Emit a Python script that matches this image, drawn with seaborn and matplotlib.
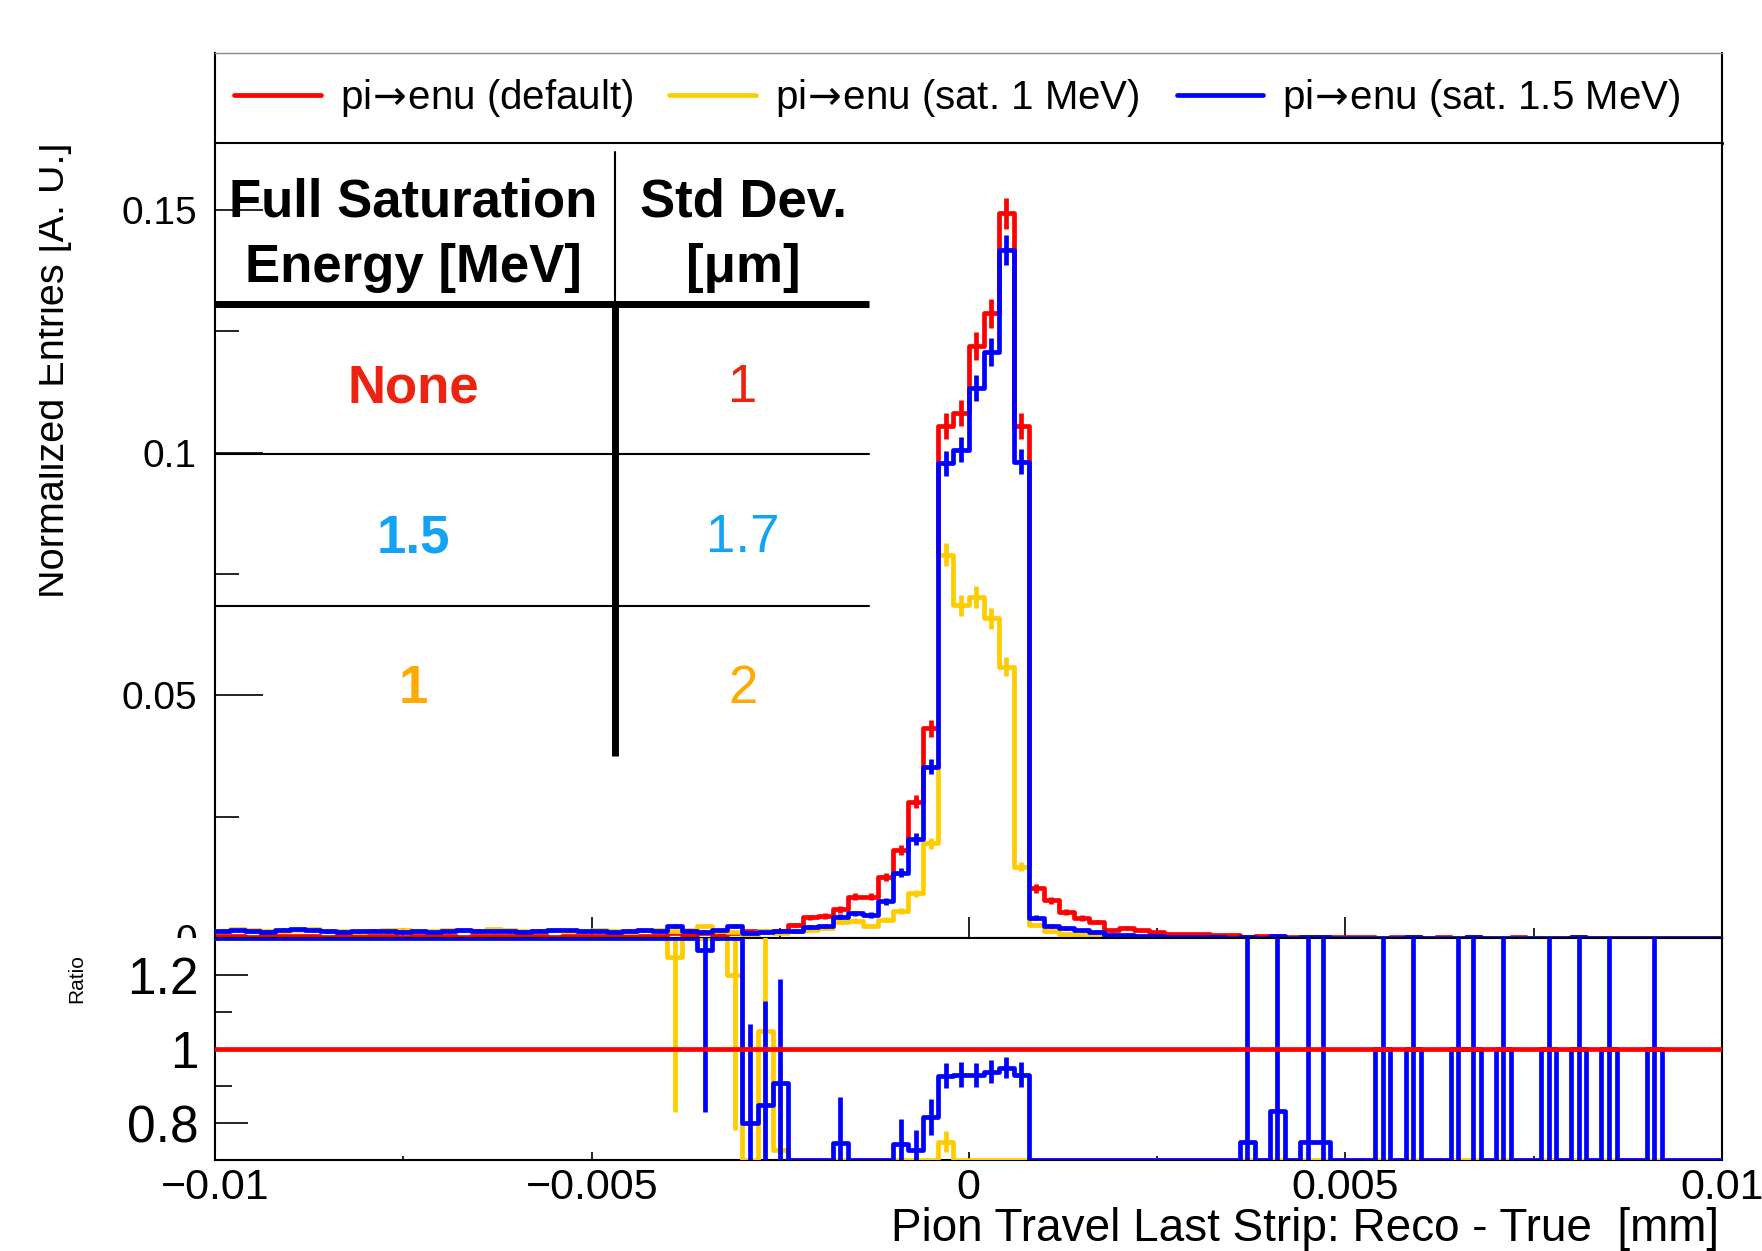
import numpy as np
import pandas as pd
import matplotlib
matplotlib.use("Agg")
import matplotlib.pyplot as plt
import seaborn as sns
from matplotlib.lines import Line2D
from matplotlib.patches import Rectangle
from matplotlib.ticker import FixedLocator, FixedFormatter

# ---------------------------------------------------------------- data
N_EVENTS = 14800                      # entries used for the normalisation
BIN_EDGES = list(np.linspace(-0.01, 0.01, 101))

# entries per bin (100 bins, -0.01 .. 0.01 mm)
entries_default = [
    5, 6, 4, 5, 7, 6, 5, 4, 6, 5,
    5, 6, 4, 5, 6, 5, 4, 6, 5, 5,
    6, 5, 4, 5, 6, 5, 6, 5, 6, 7,
    16, 8, 15, 8, 15, 20, 20, 22, 40, 63,
    67, 87, 126, 126, 186, 268, 416, 639, 1560, 1600,
    1804, 1905, 2210, 1560, 151, 115, 80, 61, 49, 24,
    30, 24, 18, 12, 12, 11, 10, 8, 4, 5,
    6, 4, 4, 4, 3, 2, 3, 1, 2, 2,
    1, 2, 1, 2, 1, 1, 2, 1, 1, 0,
    2, 1, 1, 1, 0, 1, 1, 0, 1, 0,
]
entries_sat1 = [
    20, 26, 24, 22, 20, 23, 27, 21, 20, 19,
    22, 25, 24, 21, 20, 23, 25, 22, 26, 24,
    20, 22, 25, 21, 20, 24, 22, 19, 23, 24,
    20, 24, 38, 22, 18, 6, 21, 16, 20, 25,
    30, 50, 53, 37, 56, 83, 136, 289, 1169, 1015,
    1040, 975, 827, 218, 40, 20, 11, 8, 7, 3,
    2, 2, 1, 1, 0, 1, 0, 0, 0, 0,
    0, 0, 0, 0, 0, 0, 0, 0, 0, 0,
    0, 0, 0, 0, 0, 0, 0, 0, 0, 0,
    0, 0, 0, 0, 0, 0, 0, 0, 0, 0,
]
entries_sat15 = [
    22, 24, 21, 19, 25, 26, 23, 20, 19, 21,
    22, 20, 19, 20, 18, 21, 24, 22, 20, 21,
    19, 22, 24, 23, 21, 20, 19, 22, 23, 21,
    36, 22, 19, 24, 38, 16, 17, 20, 20, 34,
    37, 65, 75, 70, 112, 199, 302, 522, 1448, 1489,
    1677, 1788, 2099, 1452, 62, 38, 30, 24, 19, 8,
    9, 7, 6, 4, 3, 3, 2, 1, 3, 0,
    5, 0, 3, 3, 0, 0, 0, 1, 0, 2,
    0, 0, 1, 2, 0, 1, 0, 0, 1, 0,
    2, 0, 1, 0, 0, 1, 0, 0, 0, 0,
]

series_labels = [r"pi$\!\rightarrow\!$enu (default)",
                 r"pi$\!\rightarrow\!$enu (sat. 1 MeV)",
                 r"pi$\!\rightarrow\!$enu (sat. 1.5 MeV)"]
series_colors = ["#ff0000", "#ffcc00", "#0000ff"]

x_tick_values = [-0.01, -0.005, 0.0, 0.005, 0.01]
x_tick_labels = ["\u22120.01", "\u22120.005", "0", "0.005", "0.01"]
y_tick_values = [0.0, 0.05, 0.1, 0.15]
y_tick_labels = ["0", "0.05", "0.1", "0.15"]
ratio_tick_values = [0.8, 1.0, 1.2]
ratio_tick_labels = ["0.8", "1", "1.2"]

table_header_left = ["Full Saturation", "Energy [MeV]"]
table_header_right = ["Std Dev.", "[\u03bcm]"]
table_energy = ["None", "1.5", "1"]
table_stddev = ["1", "1.7", "2"]
table_colors = ["#ee2211", "#12a3f2", "#ffaa00"]

# ---------------------------------------------------------------- style
sns.set_theme(style="ticks", rc={
    "axes.edgecolor": "black", "axes.linewidth": 1.5,
    "xtick.color": "black", "ytick.color": "black",
    "text.color": "black", "axes.labelcolor": "black",
    "axes.facecolor": "white", "figure.facecolor": "white",
})
plt.rcParams["font.family"] = ["Liberation Sans", "DejaVu Sans"]
plt.rcParams["mathtext.fontset"] = "dejavusans"

LW = 3.4
edges = np.asarray(BIN_EDGES)
centers = 0.5 * (edges[:-1] + edges[1:])
counts = [np.asarray(c, dtype=float) for c in
          (entries_default, entries_sat1, entries_sat15)]

fig = plt.figure(figsize=(17.62, 12.51), dpi=100)
L, W = 0.12202, 0.85528
ax_leg = fig.add_axes([L, 0.88569, W, 0.07194])
ax = fig.add_axes([L, 0.25020, W, 0.63549])
ax_r = fig.add_axes([L, 0.07274, W, 0.17746], zorder=2)

# ------------------------------------------------------- main histograms
for i, (c, col) in enumerate(zip(counts, series_colors)):
    df = pd.DataFrame({"x": centers, "w": c / N_EVENTS})
    errs = np.sqrt(c) / N_EVENTS
    sns.histplot(data=df, x="x", weights="w", bins=BIN_EDGES, element="step",
                 fill=False, color=col, linewidth=LW, ax=ax, zorder=2 + i)
    ax.errorbar(df["x"], df["w"], yerr=errs, fmt="none", ecolor=col,
                elinewidth=LW, capsize=0, zorder=2 + i)

ax.set_xlim(edges[0], edges[-1])
ax.set_ylim(0, 0.1638)
ax.set_xlabel("")
ax.set_ylabel("")
ax.xaxis.set_major_locator(FixedLocator(x_tick_values))
ax.xaxis.set_minor_locator(FixedLocator([-0.0075, -0.0025, 0.0025, 0.0075]))
ax.yaxis.set_major_locator(FixedLocator(y_tick_values))
ax.yaxis.set_major_formatter(FixedFormatter(y_tick_labels))
ax.yaxis.set_minor_locator(FixedLocator([0.025, 0.075, 0.125]))
ax.tick_params(axis="x", which="major", direction="in", length=15, width=1.2,
               bottom=True, top=False, labelbottom=False)
ax.tick_params(axis="x", which="minor", direction="in", length=7, width=1.2,
               bottom=True, top=False)
ax.tick_params(axis="y", which="major", direction="in", length=34.5, width=1.2,
               left=True, right=False, labelsize=28, pad=13)
ax.tick_params(axis="y", which="minor", direction="in", length=17, width=1.2,
               left=True, right=False)
for s in ax.spines.values():
    s.set_visible(True)
    s.set_color("black")
    s.set_linewidth(1.5)

# ------------------------------------------------------- summary table
tx = ax.transAxes
col_x = [0.1317, 0.3504]
for yy, (a, b) in zip([0.907, 0.825], zip(table_header_left, table_header_right)):
    ax.text(col_x[0], yy, a, transform=tx, ha="center", va="baseline",
            fontsize=38, fontweight="bold", zorder=6)
    ax.text(col_x[1], yy, b, transform=tx, ha="center", va="baseline",
            fontsize=38, fontweight="bold", zorder=6)
for yy, e, s, col in zip([0.674, 0.485, 0.296], table_energy, table_stddev,
                         table_colors):
    ax.text(col_x[0], yy, e, transform=tx, ha="center", va="baseline",
            fontsize=38, fontweight="bold", color=col, zorder=6)
    ax.text(col_x[1], yy, s, transform=tx, ha="center", va="baseline",
            fontsize=38, color=col, zorder=6)
ax.plot([0.2652, 0.2652], [0.989, 0.800], transform=tx, color="black",
        lw=1.5, zorder=6, clip_on=False)
ax.plot([0.2652, 0.2652], [0.800, 0.229], transform=tx, color="black",
        lw=5, zorder=6, solid_capstyle="butt")
ax.plot([0.0, 0.4337], [0.798, 0.798], transform=tx, color="black",
        lw=5, zorder=6, solid_capstyle="butt")
for yy in (0.6088, 0.418):
    ax.plot([0.0, 0.4337], [yy, yy], transform=tx, color="black", lw=1.5,
            zorder=6)

# ------------------------------------------------------- legend strip
ax_leg.set_xticks([])
ax_leg.set_yticks([])
for name, s in ax_leg.spines.items():
    s.set_color("black")
    s.set_linewidth(1.5)
ax_leg.spines["top"].set_color("#888888")
ax_leg.spines["top"].set_linewidth(1.0)
ax_leg.spines["bottom"].set_linewidth(2.0)
handles = [Line2D([], [], color=c, lw=LW) for c in series_colors]
ax_leg.legend(handles, series_labels, loc="center", ncol=3, mode="expand",
              bbox_to_anchor=(0.0126, 0.0, 0.960, 1.0), frameon=False,
              fontsize=29, handlelength=2.15, handletextpad=0.48,
              borderpad=0, borderaxespad=0)

# ------------------------------------------------------- ratio panel
den = counts[0]
for i, (c, col) in enumerate(zip(counts[1:], series_colors[1:])):
    r = np.divide(c, den, out=np.zeros_like(c), where=den > 0)
    rel = np.sqrt(np.divide(1.0, c, out=np.zeros_like(c), where=c > 0)
                  + np.divide(1.0, den, out=np.zeros_like(c), where=den > 0))
    err = np.where((c > 0) & (den > 0), r * rel, 0.0)
    dfr = pd.DataFrame({"x": centers, "r": np.clip(r, 0.7, 1.3)})
    sns.histplot(data=dfr, x="x", weights="r", bins=BIN_EDGES,
                 element="step", fill=False, color=col, linewidth=LW,
                 ax=ax_r, zorder=3 + i)
    ax_r.errorbar(centers, r, yerr=err, fmt="none", ecolor=col,
                  elinewidth=LW, capsize=0, zorder=3 + i)
ax_r.axhline(1.0, color=series_colors[0], lw=LW, zorder=8)

ax_r.set_xlim(edges[0], edges[-1])
ax_r.set_ylim(0.7, 1.3)
ax_r.set_xlabel("")
ax_r.set_ylabel("")
ax_r.xaxis.set_major_locator(FixedLocator(x_tick_values))
ax_r.xaxis.set_major_formatter(FixedFormatter(x_tick_labels))
ax_r.xaxis.set_minor_locator(FixedLocator([-0.0075, -0.0025, 0.0025, 0.0075]))
ax_r.yaxis.set_major_locator(FixedLocator(ratio_tick_values))
ax_r.yaxis.set_major_formatter(FixedFormatter(ratio_tick_labels))
ax_r.yaxis.set_minor_locator(FixedLocator([0.9, 1.1]))
ax_r.tick_params(axis="x", which="major", direction="in", length=6, width=1.2,
                 bottom=True, top=False, labelsize=31, pad=6)
ax_r.tick_params(axis="x", which="minor", direction="in", length=3, width=1.2,
                 bottom=True, top=False)
ax_r.tick_params(axis="y", which="major", direction="in", length=24, width=1.2,
                 left=True, right=False, labelsize=37, pad=11.5)
ax_r.tick_params(axis="y", which="minor", direction="in", length=12, width=1.2,
                 left=True, right=False)
for s in ax_r.spines.values():
    s.set_visible(True)
    s.set_color("black")
    s.set_linewidth(1.5)

# lower pad covers the left margin under the main panel
fig.patches.append(Rectangle((0, 0), L - 0.0005, 0.2502,
                             transform=fig.transFigure, facecolor="white",
                             edgecolor="none", zorder=1))

# ------------------------------------------------------- titles
fig.text(64 / 1762, 1 - 143 / 1251, "Normalized Entries [A. U.]",
         rotation=90, rotation_mode="anchor", ha="right", va="baseline",
         fontsize=28.5, zorder=3)
fig.patches.append(Rectangle((0, 0.3), 38.5 / 1762, 0.7,
                             transform=fig.transFigure, facecolor="white",
                             edgecolor="none", zorder=5))
fig.text(77 / 1762, 1 - 979 / 1251, "Ratio", rotation=90, ha="center",
         va="center", fontsize=15, zorder=6)
fig.text(1719 / 1762, 1 - 1241 / 1251,
         "Pion Travel Last Strip: Reco - True  [mm]",
         ha="right", va="baseline", fontsize=33, zorder=6)

fig.savefig("out.png", dpi=100)
